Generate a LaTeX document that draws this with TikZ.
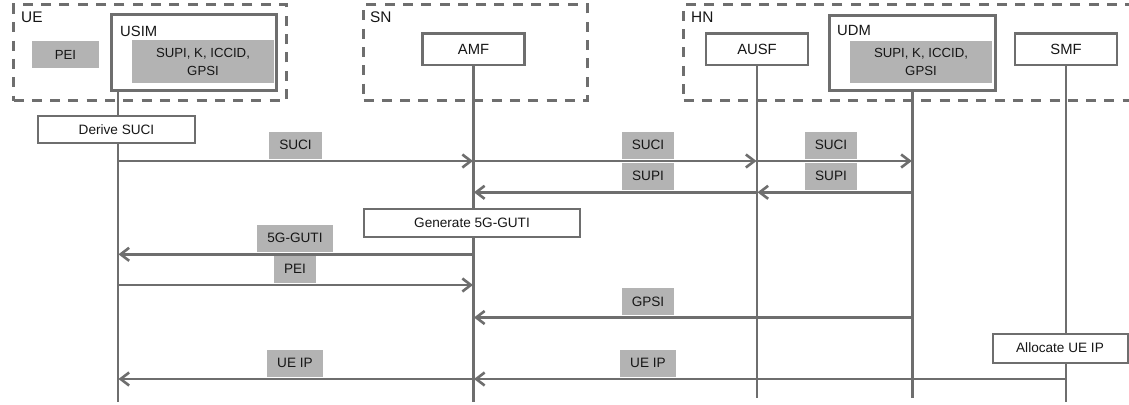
\documentclass[tikz,border=0pt]{standalone}
\usepackage{fontspec}
\setmainfont{Liberation Sans}
\usetikzlibrary{arrows.meta}
\definecolor{lc}{RGB}{110,110,110}
\definecolor{tc}{RGB}{22,22,22}
\definecolor{gf}{RGB}{179,179,179}
\tikzset{
  grp/.style={draw=lc, line width=3pt, dash pattern=on 10pt off 8.3pt, inner sep=0pt, anchor=north west},
  grptitle/.style={anchor=west, inner sep=0pt, text=tc, font=\fontsize{15.4}{18}\selectfont},
  ent/.style={draw=lc, line width=2.5pt, fill=white, inner sep=0pt, text=tc, font=\fontsize{14.8}{17}\selectfont},
  bigent/.style={draw=lc, line width=3pt, fill=white, inner sep=0pt},
  store/.style={fill=gf, inner sep=0pt, text=tc, align=center, font=\fontsize{13.2}{18}\selectfont},
  lbl/.style={fill=gf, inner xsep=10pt, inner ysep=0pt, minimum height=27pt, text=tc, font=\fontsize{13.6}{16}\selectfont},
  act/.style={draw=lc, line width=2pt, fill=white, inner sep=0pt, text=tc, font=\fontsize{13.6}{16}\selectfont},
  life/.style={draw=lc, line width=2.7pt},
  msg/.style={draw=lc, line width=2.6pt, -{Straight Barb[length=8.5pt,width=13pt,line width=2.6pt]}, shorten >=0.5pt}
}
\begin{document}
\begin{tikzpicture}[x=1pt,y=-1pt]
\useasboundingbox (0,0) rectangle (1129,404);
\fill[white] (0,0) rectangle (1129,404);

% groups
\node[grp, minimum width=273pt, minimum height=95.5pt] (ueg) at (12,3.5) {};
\node[grp, minimum width=224pt, minimum height=95.5pt] (sng) at (362,3.5) {};
\node[grp, minimum width=480pt, minimum height=95.5pt] (hng) at (682,3.5) {};
\node[grptitle] (uet) at (21,17.5) {UE};
\node[grptitle] (snt) at (370,17.5) {SN};
\node[grptitle] (hnt) at (691,17.5) {HN};

% lifeline anchors
\coordinate (ueTop) at (118,90);
\coordinate (ueBot) at (118,402);
\coordinate (amfBot) at (473.5,402);
\coordinate (ausfBot) at (757,398);
\coordinate (udmBot) at (912.3,398);
\coordinate (smfBot) at (1066,402);

% entities
\node[bigent, minimum width=165pt, minimum height=75pt] (usim) at (193.5,52.5) {};
\node[anchor=west, inner sep=0pt, text=tc, font=\fontsize{14.8}{17}\selectfont] (usimt) at (120,31.5) {USIM};
\node[store, minimum width=142pt, minimum height=42pt] (usimd) at (203,61.5) {SUPI, K, ICCID,\\GPSI};
\node[store, minimum width=67pt, minimum height=27pt] (pei) at (65.5,54.5) {PEI};

\node[ent, minimum width=102pt, minimum height=31.5pt] (amf) at (473.5,49.3) {AMF};
\node[ent, minimum width=102pt, minimum height=31.5pt] (ausf) at (757,49.3) {AUSF};
\node[bigent, minimum width=165.5pt, minimum height=75pt] (udm) at (912.3,52.9) {};
\node[anchor=west, inner sep=0pt, text=tc, font=\fontsize{14.8}{17}\selectfont] (udmt) at (837,30.5) {UDM};
\node[store, minimum width=142pt, minimum height=42.5pt] (udmd) at (921,62.2) {SUPI, K, ICCID,\\GPSI};
\node[ent, minimum width=102pt, minimum height=31.5pt] (smf) at (1066,49.3) {SMF};

% lifelines
\draw[life] (ueTop) -- (ueBot);
\draw[life] (amf.south) -- (amfBot);
\draw[life] (ausf.south) -- (ausfBot);
\draw[life] (udm.south) -- (udmBot);
\draw[life] (smf.south) -- (smfBot);

% actions
\node[act, minimum width=157pt, minimum height=27pt] (derive) at (116.5,129.5) {Derive SUCI};
\node[act, minimum width=216pt, minimum height=28pt] (gen) at (472,223) {Generate 5G-GUTI};
\node[act, minimum width=135pt, minimum height=29pt] (alloc) at (1060,348) {Allocate UE IP};

% rows
\coordinate (r1) at (0,161);
\coordinate (r2) at (0,192.3);
\coordinate (r3) at (0,254.3);
\coordinate (r4) at (0,285);
\coordinate (r5) at (0,317.5);
\coordinate (r6) at (0,379);

% messages
\draw[msg] (ueTop |- r1) -- (amfBot |- r1);
\draw[msg] (amfBot |- r1) -- (ausfBot |- r1);
\draw[msg] (ausfBot |- r1) -- (udmBot |- r1);
\draw[msg] (udmBot |- r2) -- (ausfBot |- r2);
\draw[msg] (ausfBot |- r2) -- (amfBot |- r2);
\draw[msg] (amfBot |- r3) -- (ueTop |- r3);
\draw[msg] (ueTop |- r4) -- (amfBot |- r4);
\draw[msg] (udmBot |- r5) -- (amfBot |- r5);
\draw[msg] (smfBot |- r6) -- (amfBot |- r6);
\draw[msg] (amfBot |- r6) -- (ueTop |- r6);

% labels
\node[lbl] (l1) at (295.5,145) {SUCI};
\node[lbl] (l2) at (648,145) {SUCI};
\node[lbl] (l3) at (831,145) {SUCI};
\node[lbl] (l4) at (648,176.3) {SUPI};
\node[lbl] (l5) at (831,176.3) {SUPI};
\node[lbl] (l6) at (295,238.3) {5G-GUTI};
\node[lbl] (l7) at (295,269) {PEI};
\node[lbl] (l8) at (648,301.5) {GPSI};
\node[lbl] (l9) at (295,363) {UE IP};
\node[lbl] (l10) at (648,363) {UE IP};
\end{tikzpicture}
\end{document}
